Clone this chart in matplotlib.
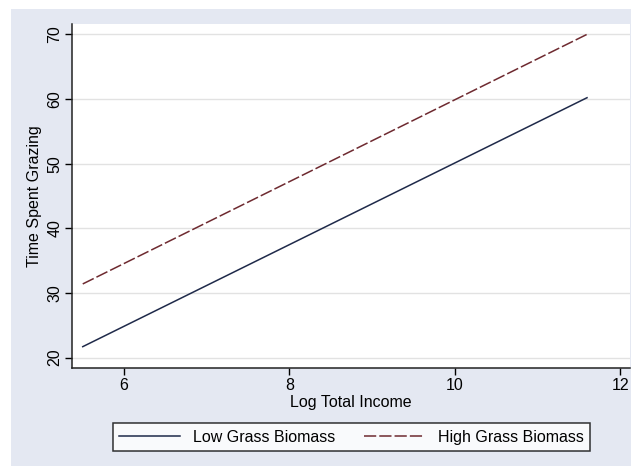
import matplotlib.pyplot as plt
from matplotlib.patches import Rectangle

# fitted lines (endpoints)
log_income = [5.5, 11.6]
low_biomass = [21.7, 60.2]
high_biomass = [31.4, 70.0]

x_ticks = [6, 8, 10, 12]
y_ticks = [20, 30, 40, 50, 60, 70]

BG = "#e4e8f2"
W, H = 631, 466
FS = 11.5

plt.rcParams["font.family"] = ["Liberation Sans", "DejaVu Sans"]

fig = plt.figure(figsize=(W / 100, H / 100), dpi=100, facecolor="white")
fig.patches.append(Rectangle((11 / W, 0), 1, 1 - 9 / H, transform=fig.transFigure,
                             facecolor=BG, edgecolor="none", zorder=-10))

ax = fig.add_axes([72 / W, 1 - 368 / H, (630 - 72) / W, (368 - 24) / H])
ax.set_facecolor("white")

ax.plot(log_income, low_biomass, color="#1f2a4a", linewidth=1.1,
        label="Low Grass Biomass")
ax.plot(log_income, high_biomass, color="#6e2a30", linewidth=1.1,
        dashes=(8, 2), label="High Grass Biomass")

ax.set_xlim(5.37, 12.12)
ax.set_ylim(18.4, 71.6)
ax.set_xticks(x_ticks)
ax.set_yticks(y_ticks)
ax.tick_params(axis="both", direction="out", length=5, width=1, labelsize=FS,
               colors="black", pad=2)
for lab in ax.get_yticklabels():
    lab.set_rotation(90)
    lab.set_va("center")
ax.grid(axis="y", color="#e2e2e2", linewidth=1)
ax.set_axisbelow(True)

for side in ["top", "right"]:
    ax.spines[side].set_visible(False)
for side in ["left", "bottom"]:
    ax.spines[side].set_linewidth(1.1)
    ax.spines[side].set_color("#222222")

ax.set_xlabel("Log Total Income", fontsize=FS, labelpad=2)
ax.set_ylabel("Time Spent Grazing", fontsize=FS, labelpad=4)

leg = fig.legend(loc="lower left", bbox_to_anchor=(113 / W, 15 / H, 477 / W, 32 / H),
                 mode="expand", ncol=2, frameon=True, fancybox=False,
                 edgecolor="black", fontsize=FS, handlelength=3.8,
                 handletextpad=0.8, borderaxespad=0)
leg.get_frame().set_linewidth(1.1)

fig.savefig("out.png", dpi=100, facecolor=fig.get_facecolor())
